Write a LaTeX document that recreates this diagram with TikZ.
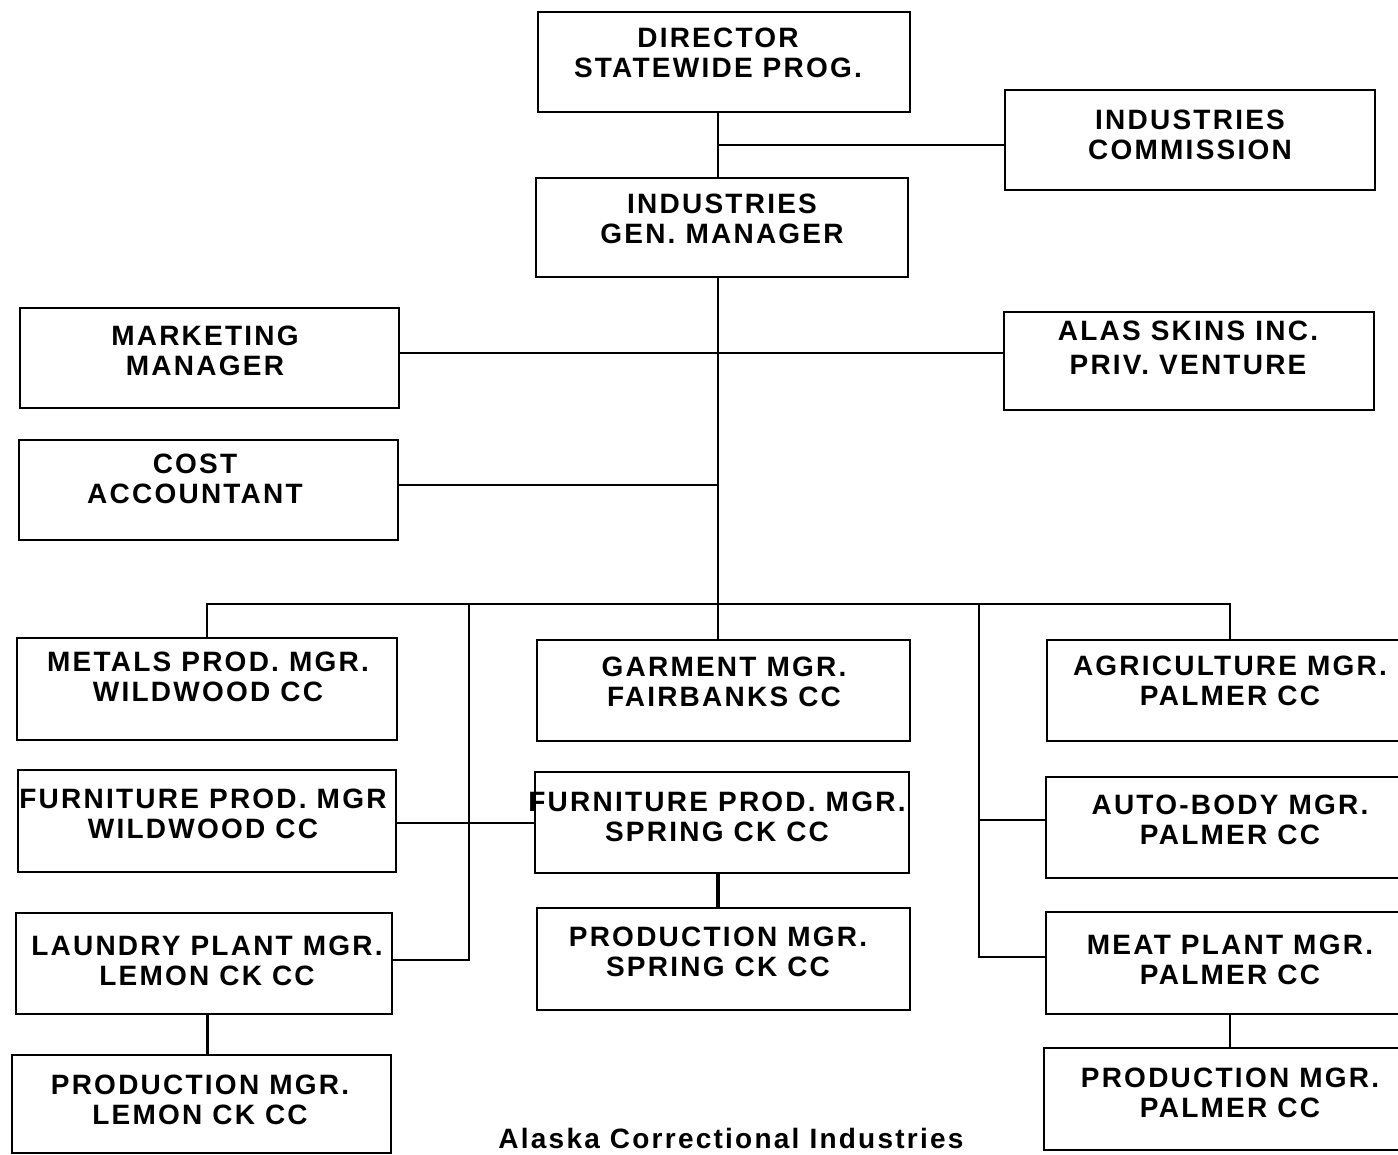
\documentclass[tikz,border=0pt]{standalone}
\usepackage{fontspec}
\setmainfont{Liberation Sans}[LetterSpace=8]
\begin{document}
\begin{tikzpicture}[x=1pt,y=-1pt,
  box/.style={draw, line width=2.5pt, inner sep=0pt},
  lbl/.style={anchor=north, inner sep=0pt, align=center, font=\fontsize{28}{30}\selectfont\bfseries},
  wire/.style={line width=2.5pt},
  thick wire/.style={line width=4pt}]
\clip (0,0) rectangle (1398,1155);
\fill[white] (0,0) rectangle (1398,1155);
% boxes
\node[box, minimum width=372pt, minimum height=100pt] (dir) at (724,62) {};
\node[box, minimum width=370pt, minimum height=100pt] (com) at (1190,140) {};
\node[box, minimum width=372pt, minimum height=99pt] (gen) at (722,227.5) {};
\node[box, minimum width=379pt, minimum height=100pt] (mkt) at (209.5,358) {};
\node[box, minimum width=370pt, minimum height=98pt] (alas) at (1189,361) {};
\node[box, minimum width=379pt, minimum height=100pt] (cost) at (208.5,490) {};
\node[box, minimum width=380pt, minimum height=102pt] (metals) at (207,689) {};
\node[box, minimum width=378pt, minimum height=102pt] (furnW) at (207,821) {};
\node[box, minimum width=376pt, minimum height=101pt] (laundry) at (204,963.5) {};
\node[box, minimum width=379pt, minimum height=98pt] (prodL) at (201.5,1104) {};
\node[box, minimum width=373pt, minimum height=101pt] (garment) at (723.5,690.5) {};
\node[box, minimum width=374pt, minimum height=101pt] (furnS) at (722,822.5) {};
\node[box, minimum width=373pt, minimum height=102pt] (prodS) at (723.5,959) {};
\node[box, minimum width=366pt, minimum height=101pt] (agri) at (1230,690.5) {};
\node[box, minimum width=368pt, minimum height=101pt] (auto) at (1230,827.5) {};
\node[box, minimum width=368pt, minimum height=102pt] (meat) at (1230,963) {};
\node[box, minimum width=372pt, minimum height=102pt] (prodP) at (1230,1099) {};
% labels
\node[lbl] (dirT) at (718,28) {DIRECTOR\\STATEWIDE PROG.};
\node[lbl] (comT) at (1190,110) {INDUSTRIES\\COMMISSION};
\node[lbl] (genT) at (722,194) {INDUSTRIES\\GEN. MANAGER};
\node[lbl] (mktT) at (205,326) {MARKETING\\MANAGER};
\node[lbl, font=\fontsize{28}{34}\selectfont\bfseries] (alasT) at (1188,321) {ALAS SKINS INC.\\PRIV. VENTURE};
\node[lbl] (costT) at (195,454) {COST\\ACCOUNTANT};
\node[lbl] (metalsT) at (208,652) {METALS PROD. MGR.\\WILDWOOD CC};
\node[lbl] (furnWT) at (203,789) {FURNITURE PROD. MGR\\WILDWOOD CC};
\node[lbl] (laundryT) at (207,936) {LAUNDRY PLANT MGR.\\LEMON CK CC};
\node[lbl] (prodLT) at (200,1075) {PRODUCTION MGR.\\LEMON CK CC};
\node[lbl] (garmentT) at (724,657) {GARMENT MGR.\\FAIRBANKS CC};
\node[lbl] (furnST) at (717,792) {FURNITURE PROD. MGR.\\SPRING CK CC};
\node[lbl] (prodST) at (718,927) {PRODUCTION MGR.\\SPRING CK CC};
\node[lbl] (agriT) at (1230,656) {AGRICULTURE MGR.\\PALMER CC};
\node[lbl] (autoT) at (1230,795) {AUTO-BODY MGR.\\PALMER CC};
\node[lbl] (meatT) at (1230,935) {MEAT PLANT MGR.\\PALMER CC};
\node[lbl] (prodPT) at (1230,1068) {PRODUCTION MGR.\\PALMER CC};
\node[lbl] (capT) at (731,1128) {Alaska Correctional Industries};
% connector coordinates
\coordinate (sp) at (718,604);
\coordinate (lb) at (469,604);
\coordinate (rb) at (979,604);
% connectors
\draw[wire] (dir.south -| sp) -- (gen.north -| sp);
\draw[wire] ([yshift=-5pt]sp |- com.west) -- ([yshift=-5pt]com.west);
\draw[wire] (gen.south -| sp) -- (sp);
\draw[wire] ([yshift=5pt]mkt.east) -- ([yshift=5pt]mkt.east -| alas.west);
\draw[wire] ([yshift=5pt]cost.east) -- ([yshift=5pt]cost.east -| sp);
\draw[wire] (metals.north) -- (metals.north |- sp) -- (agri.north |- sp) -- (agri.north);
\draw[wire] (sp) -- (sp |- garment.north);
\draw[wire] (lb) -- ([yshift=3.5pt]lb |- laundry.east) -- ([yshift=3.5pt]laundry.east);
\draw[wire] ([yshift=-2pt]furnW.east) -- ([yshift=-2pt]furnW.east -| furnS.west);
\draw[wire] (rb) -- ([yshift=6pt]rb |- meat.west) -- ([yshift=6pt]meat.west);
\draw[wire] ([yshift=7.5pt]rb |- auto.west) -- ([yshift=7.5pt]auto.west);
\draw[thick wire] (furnS.south -| sp) -- (prodS.north -| sp);
\draw[wire] ([xshift=6pt]laundry.south -| prodL.north) -- ([xshift=6pt]prodL.north);
\draw[wire] (meat.south) -- (prodP.north);
\end{tikzpicture}
\end{document}
